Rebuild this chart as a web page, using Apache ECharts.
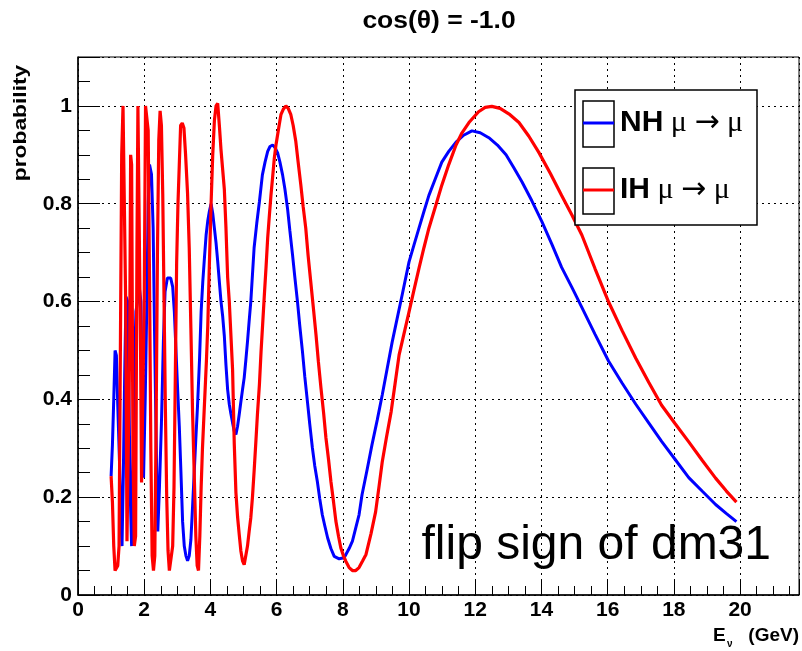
<!DOCTYPE html>
<html>
<head>
<meta charset="utf-8">
<script src="https://cdn.jsdelivr.net/npm/echarts@6/dist/echarts.min.js"></script>
<style>html,body{margin:0;padding:0;background:#fff}#c{width:802px;height:651px}</style>
</head>
<body>
<div id="c"></div>
<script>
// ---- data (energy in GeV, probability) ----
const xTicks = [0, 2, 4, 6, 8, 10, 12, 14, 16, 18, 20];
const yTicks = [0, 0.2, 0.4, 0.6, 0.8, 1];
const nhLabel = 'NH';
const ihLabel = 'IH';
const nhPoints = [[1.00,.243],[1.04,.307],[1.08,.40],[1.12,.50],[1.16,.49],[1.20,.39],[1.25,.28],[1.30,.15],[1.33,.10],[1.37,.25],[1.41,.45],[1.45,.61],[1.50,.60],[1.54,.40],[1.58,.20],[1.62,.10],[1.66,.25],[1.70,.45],[1.75,.58],[1.80,.60],[1.85,.63],[1.90,.60],[1.94,.42],[1.98,.24],[2.03,.40],[2.08,.60],[2.12,.80],[2.16,.88],[2.22,.86],[2.27,.75],[2.32,.50],[2.37,.28],[2.41,.13],[2.46,.22],[2.52,.35],[2.58,.52],[2.63,.62],[2.70,.648],[2.80,.648],[2.86,.63],[2.91,.58],[2.96,.50],[3.01,.42],[3.06,.345],[3.11,.25],[3.16,.15],[3.21,.10],[3.26,.08],[3.31,.07],[3.36,.08],[3.41,.113],[3.46,.18],[3.51,.25],[3.56,.32],[3.61,.386],[3.67,.48],[3.72,.58],[3.77,.641],[3.82,.69],[3.87,.736],[3.92,.765],[3.97,.785],[4.02,.80],[4.07,.78],[4.12,.75],[4.17,.72],[4.22,.682],[4.27,.64],[4.32,.60],[4.37,.57],[4.42,.53],[4.47,.47],[4.52,.42],[4.57,.39],[4.62,.37],[4.67,.352],[4.72,.335],[4.77,.328],[4.82,.345],[4.87,.369],[4.92,.395],[4.97,.42],[5.02,.444],[5.07,.48],[5.12,.518],[5.17,.56],[5.22,.60],[5.27,.655],[5.32,.71],[5.40,.76],[5.48,.804],[5.57,.859],[5.65,.885],[5.73,.907],[5.80,.917],[5.88,.92],[5.95,.915],[6.03,.904],[6.10,.885],[6.18,.859],[6.25,.83],[6.33,.79],[6.40,.745],[6.48,.696],[6.55,.65],[6.63,.60],[6.70,.55],[6.78,.498],[6.85,.447],[6.93,.396],[7.00,.35],[7.08,.301],[7.15,.265],[7.23,.232],[7.30,.198],[7.38,.164],[7.46,.14],[7.54,.117],[7.64,.095],[7.74,.079],[7.89,.074],[8.04,.076],[8.19,.095],[8.29,.11],[8.40,.14],[8.49,.164],[8.58,.205],[8.73,.255],[8.88,.307],[9.04,.358],[9.19,.409],[9.34,.463],[9.49,.517],[9.64,.565],[9.79,.613],[10.0,.681],[10.15,.716],[10.3,.75],[10.45,.784],[10.6,.817],[10.8,.852],[10.99,.885],[11.2,.907],[11.42,.926],[11.65,.94],[11.9,.949],[12.15,.945],[12.41,.935],[12.67,.92],[12.93,.90],[13.17,.873],[13.41,.845],[13.71,.806],[14.01,.764],[14.31,.718],[14.61,.67],[14.92,.629],[15.22,.588],[15.62,.533],[16.03,.478],[16.44,.433],[16.85,.39],[17.24,.352],[17.63,.314],[18.04,.277],[18.45,.24],[18.86,.212],[19.26,.185],[19.58,.167],[19.89,.15]];
const ihPoints = [[1.00,.243],[1.04,.19],[1.08,.10],[1.12,.05],[1.16,.05],[1.20,.06],[1.24,.10],[1.28,.50],[1.32,.90],[1.36,1.0],[1.40,1.0],[1.44,.60],[1.48,.11],[1.52,.11],[1.56,.50],[1.59,.90],[1.62,.88],[1.66,.30],[1.70,.10],[1.74,.12],[1.78,.70],[1.81,1.0],[1.85,1.0],[1.89,.50],[1.92,.23],[1.96,.23],[2.00,.60],[2.04,1.0],[2.08,1.0],[2.12,.95],[2.16,.65],[2.20,.30],[2.24,.08],[2.28,.05],[2.32,.08],[2.36,.35],[2.40,.70],[2.44,.93],[2.48,.99],[2.52,.96],[2.56,.82],[2.60,.60],[2.64,.38],[2.68,.20],[2.72,.09],[2.76,.05],[2.82,.05],[2.86,.10],[2.90,.22],[2.94,.45],[2.98,.68],[3.02,.80],[3.06,.88],[3.10,.96],[3.15,.965],[3.20,.955],[3.25,.90],[3.31,.82],[3.36,.71],[3.41,.546],[3.46,.375],[3.51,.25],[3.56,.12],[3.60,.06],[3.64,.05],[3.68,.12],[3.72,.22],[3.76,.30],[3.80,.36],[3.84,.42],[3.88,.48],[3.92,.55],[3.97,.68],[4.02,.80],[4.07,.90],[4.12,.97],[4.17,1.0],[4.22,1.005],[4.27,.96],[4.32,.91],[4.37,.87],[4.42,.83],[4.47,.75],[4.52,.65],[4.57,.60],[4.62,.53],[4.67,.46],[4.72,.31],[4.77,.21],[4.82,.16],[4.87,.124],[4.92,.09],[4.97,.07],[5.02,.062],[5.07,.065],[5.12,.10],[5.17,.13],[5.22,.158],[5.27,.20],[5.32,.253],[5.37,.31],[5.42,.369],[5.48,.43],[5.53,.498],[5.58,.556],[5.63,.614],[5.68,.67],[5.73,.73],[5.78,.775],[5.83,.818],[5.88,.855],[5.93,.893],[5.98,.92],[6.03,.941],[6.08,.962],[6.13,.982],[6.20,.993],[6.28,1.0],[6.35,.995],[6.43,.982],[6.50,.96],[6.58,.927],[6.65,.885],[6.73,.839],[6.80,.795],[6.88,.75],[6.95,.695],[7.03,.641],[7.11,.587],[7.19,.532],[7.26,.478],[7.34,.423],[7.42,.372],[7.49,.321],[7.57,.276],[7.64,.232],[7.72,.19],[7.79,.151],[7.87,.12],[7.94,.096],[8.02,.08],[8.09,.069],[8.19,.056],[8.29,.05],[8.39,.05],[8.49,.056],[8.60,.07],[8.70,.083],[8.85,.125],[8.99,.17],[9.09,.22],[9.19,.272],[9.32,.323],[9.46,.375],[9.58,.433],[9.70,.491],[9.85,.535],[10.0,.579],[10.15,.624],[10.3,.668],[10.45,.71],[10.6,.75],[10.8,.795],[10.99,.838],[11.2,.88],[11.42,.92],[11.6,.945],[11.81,.966],[12.1,.988],[12.3,.997],[12.5,.999],[12.75,.995],[13.05,.982],[13.32,.966],[13.62,.938],[13.92,.905],[14.27,.862],[14.61,.817],[14.92,.777],[15.22,.736],[15.62,.667],[16.03,.599],[16.44,.54],[16.85,.484],[17.24,.435],[17.63,.388],[18.04,.35],[18.45,.313],[18.86,.275],[19.26,.239],[19.58,.213],[19.89,.19]];

const SANS = '"Liberation Sans", Arial, sans-serif';
const SERIF = '"Liberation Serif", "Times New Roman", serif';
const chart = echarts.init(document.getElementById('c'), null, {renderer: 'canvas'});

function isTick(v, list) { return list.some(t => Math.abs(t - v) < 1e-6); }

const labelStyle = {color: '#000', fontFamily: SANS, fontWeight: 'bold', fontSize: 21};

const option = {
  animation: false,
  backgroundColor: '#fff',
  grid: {left: 78, top: 57, right: 2, bottom: 56, show: true, borderColor: '#000', borderWidth: 1, backgroundColor: 'transparent'},
  xAxis: [{
    type: 'value', min: 0, max: 21.78, interval: 2, position: 'bottom',
    axisLine: {show: true, onZero: false, lineStyle: {color: '#000', width: 1.5}},
    axisTick: {show: true, inside: true, length: 16, lineStyle: {color: '#000', width: 1}},
    splitLine: {show: true, lineStyle: {color: '#000', width: 1, type: [2, 4]}},
    axisLabel: Object.assign({margin: 5, formatter: v => isTick(v, xTicks) ? String(Math.round(v)) : ''}, labelStyle)
  }, {
    type: 'value', min: 0, max: 21.78, interval: 0.5, position: 'bottom',
    axisLine: {show: false}, splitLine: {show: false}, axisLabel: {show: false},
    axisTick: {show: true, inside: true, length: 9, lineStyle: {color: '#000', width: 1}}
  }],
  yAxis: [{
    type: 'value', min: 0, max: 1.1, interval: 0.2, position: 'left',
    axisLine: {show: true, onZero: false, lineStyle: {color: '#000', width: 1.5}},
    axisTick: {show: true, inside: true, length: 22, lineStyle: {color: '#000', width: 1}},
    splitLine: {show: true, lineStyle: {color: '#000', width: 1, type: [2, 4]}},
    axisLabel: Object.assign({margin: 6, formatter: v => {
      if (!isTick(v, yTicks)) return '';
      if (Math.abs(v) < 1e-6) return '0';
      if (Math.abs(v - 1) < 1e-6) return '1';
      return v.toFixed(1);
    }}, labelStyle)
  }, {
    type: 'value', min: 0, max: 1.1, interval: 0.05, position: 'left',
    axisLine: {show: false}, splitLine: {show: false}, axisLabel: {show: false},
    axisTick: {show: true, inside: true, length: 12, lineStyle: {color: '#000', width: 1}}
  }],
  series: [{
    name: nhLabel, type: 'line', xAxisIndex: 0, yAxisIndex: 0, data: nhPoints,
    showSymbol: false, symbol: 'none', lineStyle: {color: '#0000ff', width: 3}, z: 3
  }, {
    name: ihLabel, type: 'line', xAxisIndex: 0, yAxisIndex: 0, data: ihPoints,
    showSymbol: false, symbol: 'none', lineStyle: {color: '#ff0000', width: 3.2}, z: 4
  }],
  graphic: [
    {type: 'text', x: 439, y: 22, scaleX: 1.15, z: 10,
     style: {text: 'cos(θ) = -1.0', font: 'bold 23px ' + SANS, fill: '#000', align: 'center', verticalAlign: 'middle'}},
    {type: 'text', x: 21, y: 123, rotation: Math.PI / 2, scaleX: 1.2, z: 10,
     style: {text: 'probability', font: 'bold 19px ' + SANS, fill: '#000', align: 'center', verticalAlign: 'middle'}},
    {type: 'text', x: 713, y: 636, z: 10,
     style: {text: 'E', font: 'bold 19px ' + SANS, fill: '#000', align: 'left', verticalAlign: 'middle'}},
    {type: 'text', x: 727, y: 644, z: 10,
     style: {text: 'ν', font: 'bold 10px ' + SANS, fill: '#000', align: 'left', verticalAlign: 'middle'}},
    {type: 'text', x: 799, y: 636, z: 10,
     style: {text: '(GeV)', font: 'bold 19px ' + SANS, fill: '#000', align: 'right', verticalAlign: 'middle'}},
    {type: 'text', x: 771, y: 546, z: 10,
     style: {text: 'flip sign of dm31', font: '48px ' + SANS, fill: '#000', align: 'right', verticalAlign: 'middle'}},
    // legend box
    {type: 'rect', z: 20, shape: {x: 575, y: 90, width: 182, height: 135},
     style: {fill: '#fff', stroke: '#000', lineWidth: 1.5}},
    {type: 'rect', z: 21, shape: {x: 583, y: 101, width: 31, height: 46},
     style: {fill: 'none', stroke: '#000', lineWidth: 1.5}},
    {type: 'line', z: 22, shape: {x1: 583, y1: 123, x2: 614, y2: 123},
     style: {stroke: '#0000ff', lineWidth: 3}},
    {type: 'rect', z: 21, shape: {x: 583, y: 168, width: 31, height: 46},
     style: {fill: 'none', stroke: '#000', lineWidth: 1.5}},
    {type: 'line', z: 22, shape: {x1: 583, y1: 190, x2: 614, y2: 190},
     style: {stroke: '#ff0000', lineWidth: 3}},
    {type: 'text', x: 620, y: 123, z: 23,
     style: {text: '{b|' + nhLabel + '}{s| μ }{a|→}{s| μ}', align: 'left', verticalAlign: 'middle',
       rich: {b: {font: 'bold 30px ' + SANS, fill: '#000'}, s: {font: '30px ' + SERIF, fill: '#000'}, a: {font: '30px "DejaVu Sans", ' + SERIF, fill: '#000'}}}},
    {type: 'text', x: 620, y: 190, z: 23,
     style: {text: '{b|' + ihLabel + '}{s| μ }{a|→}{s| μ}', align: 'left', verticalAlign: 'middle',
       rich: {b: {font: 'bold 30px ' + SANS, fill: '#000'}, s: {font: '30px ' + SERIF, fill: '#000'}, a: {font: '30px "DejaVu Sans", ' + SERIF, fill: '#000'}}}}
  ]
};
chart.setOption(option);
</script>
</body>
</html>
